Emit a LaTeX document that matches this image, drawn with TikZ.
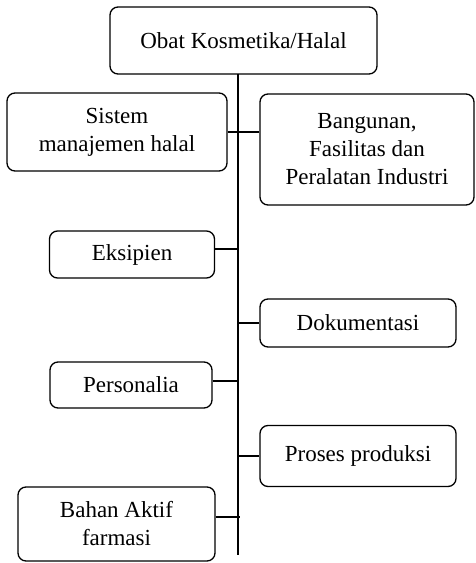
\documentclass[tikz,border=0pt]{standalone}
\usepackage{fontspec}
\setmainfont{Liberation Serif}
\usepackage{tikz}
\usetikzlibrary{positioning}

\tikzset{
    kotak/.style={draw, line width=1.3pt, rounded corners=8pt, align=center,
        inner sep=0pt, font=\fontsize{23}{28}\selectfont},
    garis/.style={line width=1.4pt},
}

\begin{document}
\begin{tikzpicture}[x=1pt, y=-1pt]
    \useasboundingbox (0,0) rectangle (476,563);
    % kotak utama dan cabang-cabangnya
    \node[kotak, minimum width=267pt, minimum height=67pt] (obat) at (243.5,40.5) {Obat Kosmetika/Halal};
    \node[kotak, minimum width=220pt, minimum height=78pt] (sistem) at (117,132) {Sistem\\manajemen halal};
    \node[kotak, minimum width=214pt, minimum height=111pt] (bangunan) at (367,149.5) {Bangunan,\\Fasilitas dan\\Peralatan Industri};
    \node[kotak, minimum width=165pt, minimum height=47pt] (eksipien) at (132,254.5) {Eksipien};
    \node[kotak, minimum width=196pt, minimum height=48pt] (dokumentasi) at (358,323) {Dokumentasi};
    \node[kotak, minimum width=162pt, minimum height=46pt] (personalia) at (131,385) {Personalia};
    \node[kotak, minimum width=196pt, minimum height=61pt] (proses) at (358,456) {Proses produksi};
    \node[kotak, minimum width=197pt, minimum height=74pt] (bahan) at (116.5,524) {Bahan Aktif\\farmasi};

    % garis batang
    \coordinate (atas) at (238,74);
    \coordinate (bawah) at (238,555);
    \draw[garis] (atas) -- (bawah);

    % garis penghubung
    \draw[garis] (sistem.east) -- (sistem.east -| bangunan.west);
    \draw[garis] (eksipien.east |- 0,249) -- (atas |- 0,249);
    \draw[garis] (atas |- dokumentasi.west) -- (dokumentasi.west);
    \draw[garis] (personalia.east |- 0,381) -- (atas |- 0,381);
    \draw[garis] (atas |- proses.west) -- (proses.west);
    \draw[garis] (bahan.east |- 0,517) -- ([xshift=2pt]atas |- 0,517);
\end{tikzpicture}
\end{document}
